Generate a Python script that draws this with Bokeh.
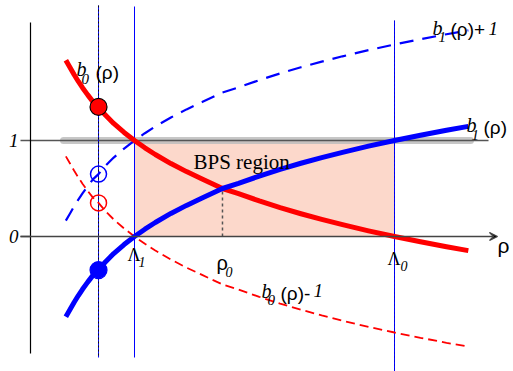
from bokeh.plotting import figure
from bokeh.models import Range1d, Arrow, VeeHead
from bokeh.core.properties import value
from bokeh.embed import file_html
from bokeh.resources import INLINE

# ---------------- data ----------------
rho = [0.34, 0.38, 0.42, 0.46, 0.50, 0.55, 0.60, 0.654, 0.72, 0.80, 0.90, 1.0,
       1.10, 1.20, 1.35, 1.50, 1.65, 1.846, 2.0, 2.2, 2.4, 2.6, 2.8, 3.0,
       3.25, 3.5, 3.75, 4.0, 4.21]
b1 = [-0.835, -0.76, -0.685, -0.615, -0.55, -0.475, -0.405, -0.35, -0.265, -0.178, -0.084, 0.0,
      0.076, 0.146, 0.240, 0.324, 0.400, 0.50, 0.553, 0.629, 0.699, 0.763, 0.822, 0.877,
      0.941, 1.0, 1.055, 1.107, 1.147]
b0 = [1.835, 1.76, 1.685, 1.615, 1.55, 1.475, 1.405, 1.35, 1.265, 1.178, 1.084, 1.0,
      0.924, 0.854, 0.760, 0.676, 0.600, 0.50, 0.447, 0.371, 0.301, 0.237, 0.178, 0.123,
      0.059, 0.0, -0.055, -0.107, -0.147]
b1_plus_1 = [v + 1 for v in b1]
b0_minus_1 = [v - 1 for v in b0]

rho_star = 0.654          # dashed vertical line with the circles
lambda1 = 1.0             # Λ1
lambda0 = 3.5             # Λ0
rho0 = 1.846              # crossing point ρ0
b0_at_star = 1.35
b1_at_star = -0.35
b0m1_at_star = 0.35
b1p1_at_star = 0.65
rho0_value = 0.50
y_ticks = [0, 1]
y_tick_labels = ["0", "1"]

# ---------------- pixel helpers (layout only) ----------------
def px2x(px):
    return (px - 30) / 104.0

def py2y(py):
    return (236 - py) / 96.0

W, H = 513, 371
p = figure(width=W, height=H, output_backend="svg", toolbar_location=None,
           x_range=Range1d(px2x(0), px2x(W)), y_range=Range1d(py2y(H), py2y(0)),
           x_axis_type=None, y_axis_type=None, min_border=0)
p.grid.visible = False
p.outline_line_color = None
p.background_fill_color = "white"
p.border_fill_color = "white"

# BPS region
p.quad(left=[lambda1], right=[lambda0], bottom=[0], top=[1],
       fill_color="#fcd8cb", line_color=None)

# gray band and line at 1
p.line([px2x(63), px2x(470)], [1, 1], line_color="#bdbdbd", line_width=7, line_alpha=0.85, line_cap="round")
p.line([px2x(20), px2x(488)], [1, 1], line_color="#555555", line_width=1.5)

# horizontal axis with arrow
p.add_layout(Arrow(end=VeeHead(size=8, line_color="#444444", line_width=1.2),
                   x_start=px2x(20), y_start=0, x_end=px2x(497), y_end=0,
                   line_color="#444444", line_width=1.5))

# vertical axis
p.line([0, 0], [py2y(22), py2y(353)], line_color="black", line_width=1.2)

# vertical lines
p.line([rho_star, rho_star], [py2y(5), py2y(357)], line_color="#0000ff", line_width=1)
p.line([rho_star, rho_star], [py2y(5), py2y(357)], line_color="#111111", line_width=1, line_dash="2 2")
p.line([lambda1, lambda1], [py2y(6), py2y(357)], line_color="#0000ff", line_width=1)
p.line([lambda0, lambda0], [py2y(20), py2y(371)], line_color="#0000ff", line_width=1)
p.line([lambda0, lambda0], [py2y(20), py2y(371)], line_color="#000088", line_width=1, line_dash="1 3", line_alpha=0.5)

# dotted line at ρ0
p.line([rho0, rho0], [0, rho0_value], line_color="#555555", line_width=1.5, line_dash="3 3")

# dashed curves
p.line(rho, b1_plus_1, line_color="#0000ff", line_width=2.2, line_dash="14 9")
p.line(rho, b0_minus_1, line_color="#ff0000", line_width=1.8, line_dash="9 5")

# solid curves
p.line(rho, b0, line_color="#ff0000", line_width=5, line_join="round")
p.line(rho, b1, line_color="#0000ff", line_width=5, line_join="round")

# markers
p.scatter([rho_star], [b0_at_star], size=17, fill_color="#ff0000", line_color="black", line_width=1.2)
p.scatter([rho_star], [b1_at_star], size=17, fill_color="#0000ff", line_color="#0000ff", line_width=1.2)
p.scatter([rho_star], [b1p1_at_star], size=16, fill_color=None, line_color="#0000ff", line_width=1.5)
p.scatter([rho_star], [b0m1_at_star], size=16, fill_color=None, line_color="#ff0000", line_width=1.5)

# ---------------- texts ----------------
SERIF = "Liberation Serif"
SANS = "Liberation Sans"
labels = [
    # (px_left, py_baseline, text, font, size, style)
    (76, 68, "b", SERIF, "20px", "italic"),
    (81, 78, "0", SERIF, "15px", "italic"),
    (95, 72, "(ρ)", SANS, "19px", "normal"),

    (432, 27, "b", SERIF, "20px", "italic"),
    (438, 36, "1", SERIF, "15px", "italic"),
    (450, 29, "(ρ)+", SANS, "19px", "normal"),
    (488, 28, "1", SERIF, "19px", "italic"),

    (466, 124, "b", SERIF, "20px", "italic"),
    (471, 134, "1", SERIF, "15px", "italic"),
    (483, 127, "(ρ)", SANS, "19px", "normal"),

    (261, 290, "b", SERIF, "20px", "italic"),
    (267, 299, "0", SERIF, "15px", "italic"),
    (280, 293, "(ρ)-", SANS, "19px", "normal"),
    (313, 290, "1", SERIF, "19px", "italic"),

    (193, 161, "BPS region", SERIF, "21px", "normal"),

    (127, 254, "Λ", SERIF, "18px", "normal"),
    (138, 261, "1", SERIF, "14px", "italic"),
    (387, 258, "Λ", SERIF, "18px", "normal"),
    (400, 265, "0", SERIF, "14px", "italic"),
    (216, 262, "ρ", SANS, "20px", "normal"),
    (225, 271, "0", SERIF, "14px", "italic"),

    (497, 245, "ρ", SANS, "21px", "normal"),
]
for (lx, ly, t, f, s, st) in labels:
    p.text([px2x(lx)], [py2y(ly)], text=[t], text_font=value(f), text_font_size=s,
           text_font_style=st, text_color="black", text_baseline="alphabetic", text_align="left")

# y tick labels
p.text([px2x(18)] * len(y_ticks), y_ticks, text=y_tick_labels, text_font=value(SERIF),
       text_font_size="19px", text_font_style="italic", text_color="black",
       text_baseline="middle", text_align="right")
p.line([px2x(20), 0], [0, 0], line_color="#444444", line_width=1.5)

open("out.html", "w").write(file_html(p, INLINE))
